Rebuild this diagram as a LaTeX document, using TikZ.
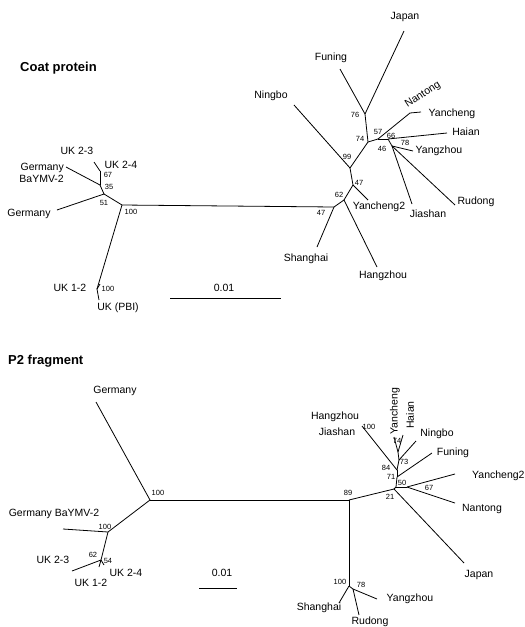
\documentclass[tikz,border=0pt]{standalone}
\usepackage{fontspec}
\setmainfont{Liberation Sans}
\begin{document}
\begin{tikzpicture}[x=1pt,y=-1pt,
  br/.style={line width=0.8pt},
  lab/.style={font=\fontsize{10.5}{12}\selectfont, inner sep=0pt},
  bs/.style={font=\fontsize{7.5}{9}\selectfont, inner sep=0pt},
  ttl/.style={font=\bfseries\fontsize{13}{15}\selectfont, inner sep=0pt, anchor=west}]
\useasboundingbox[fill=white] (0,0) rectangle (525,627);

% ================= Coat protein =================
\node[ttl] (tcp) at (20,68) {Coat protein};
% left coordinates
\coordinate (cL0) at (122,205);
\coordinate (cA) at (104,194);
\coordinate (cB) at (100,185);
\coordinate (cC) at (100,171);
\coordinate (cUKe) at (94,162);
\coordinate (cGBe) at (66,167);
\coordinate (cGe) at (57,210);
\coordinate (cD) at (97,289);
\coordinate (cUK12e) at (100,284);
\coordinate (cPBIe) at (99,300);
\coordinate (cR0) at (334,207);
% right coordinates
\coordinate (cR62) at (344,200);
\coordinate (cR47) at (353,185);
\coordinate (cR99) at (350,168);
\coordinate (cR74) at (368,142);
\coordinate (cR76) at (365,114);
\coordinate (cR57) at (378,139);
\coordinate (cRNY) at (410,113);
\coordinate (cR66) at (388,139);
\coordinate (cR46) at (392,146);
\coordinate (cShe) at (317,247);
\coordinate (cHze) at (377,267);
\coordinate (cY2e) at (368,200);
\coordinate (cNbe) at (294,105);
\coordinate (cFne) at (340,69);
\coordinate (cJpe) at (404,31);
\coordinate (cYce) at (421,112);
\coordinate (cHae) at (447,133);
\coordinate (cYze) at (413,151);
\coordinate (cJse) at (412,204);
\coordinate (cRde) at (455,205);
% scale bar
\coordinate (cSa) at (170,298);
\coordinate (cSb) at (281,298);

\draw[br] (cL0) -- (cR0);
\draw[br] (cL0) -- (cA);
\draw[br] (cA) -- (cGe);
\draw[br] (cA) -- (cB);
\draw[br] (cB) -- (cGBe);
\draw[br] (cB) -- (cC);
\draw[br] (cC) -- (cUKe);
\draw[br] (cL0) -- (cD);
\draw[br] (cD) -- (cUK12e);
\draw[br] (cD) -- (cPBIe);
\draw[br] (cR0) -- (cShe);
\draw[br] (cR0) -- (cR62);
\draw[br] (cR62) -- (cHze);
\draw[br] (cR62) -- (cR47);
\draw[br] (cR47) -- (cY2e);
\draw[br] (cR47) -- (cR99);
\draw[br] (cR99) -- (cNbe);
\draw[br] (cR99) -- (cR74);
\draw[br] (cR74) -- (cR76);
\draw[br] (cR76) -- (cFne);
\draw[br] (cR76) -- (cJpe);
\draw[br] (cR74) -- (cR57);
\draw[br] (cR57) -- (cRNY);
\draw[br] (cRNY) -- (cYce);
\draw[br] (cR57) -- (cR66);
\draw[br] (cR66) -- (cHae);
\draw[br] (cR66) -- (cR46);
\draw[br] (cR46) -- (cYze);
\draw[br] (cR46) -- (cJse);
\draw[br] (cR46) -- (cRde);
\draw[br] (cSa) -- (cSb);

% labels left
\node[lab] (lG) at (29,214) {Germany};
\node[lab, align=right, anchor=east] (lGB) at (64,173) {Germany\\BaYMV-2};
\node[lab] (lUK23) at (77,151) {UK 2-3};
\node[lab] (lUK24) at (121,165) {UK 2-4};
\node[bs] (b67) at (108,175) {67};
\node[bs] (b35) at (109,187) {35};
\node[bs] (b51) at (104,203) {51};
\node[bs] (b100a) at (131,212) {100};
\node[lab] (lUK12) at (70,288) {UK 1-2};
\node[bs] (b100b) at (108,289) {100};
\node[lab] (lPBI) at (118,308) {UK (PBI)};
\node[lab] (lsc1) at (224,288) {0.01};
% labels right
\node[bs] (b47a) at (321,213) {47};
\node[lab] (lSh) at (306,259) {Shanghai};
\node[bs] (b62) at (339,195) {62};
\node[lab] (lHz) at (383,276) {Hangzhou};
\node[bs] (b47b) at (359,183) {47};
\node[lab] (lY2) at (379,207) {Yancheng2};
\node[bs] (b99) at (347,157) {99};
\node[lab] (lNb) at (271,96) {Ningbo};
\node[bs] (b74) at (360,139) {74};
\node[bs] (b76) at (355,115) {76};
\node[lab] (lFn) at (331,58) {Funing};
\node[lab] (lJp) at (405,17) {Japan};
\node[bs] (b57) at (378,132) {57};
\node[bs] (b66) at (391,136) {66};
\node[lab, rotate=33] (lNt) at (423,95) {Nantong};
\node[lab] (lYc) at (452,114) {Yancheng};
\node[lab] (lHa) at (466,132) {Haian};
\node[bs] (b78) at (405,143) {78};
\node[lab] (lYz) at (439,151) {Yangzhou};
\node[bs] (b46) at (382,149) {46};
\node[lab] (lJs) at (428,214) {Jiashan};
\node[lab] (lRd) at (476,202) {Rudong};

% ================= P2 fragment =================
\node[ttl] (tp2) at (8,361) {P2 fragment};
\coordinate (pL0) at (150,500);
\coordinate (pGe) at (96,402);
\coordinate (pR0) at (349,500);
\coordinate (pB) at (108,532);
\coordinate (pGBe) at (63,529);
\coordinate (pC) at (101,560);
\coordinate (pUK23e) at (72,571);
\coordinate (pUK12e) at (99,567);
\coordinate (pUK24e) at (104,565);
\coordinate (pS) at (349,586);
\coordinate (pSR) at (353,589);
\coordinate (pShe) at (339,603);
\coordinate (pRde) at (359,615);
\coordinate (pYze) at (377,599);
\coordinate (pN21) at (394,489);
\coordinate (pN50) at (396,487);
\coordinate (pN67) at (407,487);
\coordinate (pN71) at (397,477);
\coordinate (pN84) at (397,470);
\coordinate (pN73) at (399,460);
\coordinate (pN74) at (398,452);
\coordinate (pJpe) at (464,563);
\coordinate (pY2e) at (455,474);
\coordinate (pNte) at (455,503);
\coordinate (pFne) at (432,453);
\coordinate (pHze) at (362,426);
\coordinate (pNbe) at (416,441);
\coordinate (pYce) at (394,437);
\coordinate (pHae) at (403,435);
\coordinate (pSa) at (199,588);
\coordinate (pSb) at (237,588);

\draw[br] (pL0) -- (pR0);
\draw[br] (pL0) -- (pGe);
\draw[br] (pL0) -- (pB);
\draw[br] (pB) -- (pGBe);
\draw[br] (pB) -- (pC);
\draw[br] (pC) -- (pUK23e);
\draw[br] (pC) -- (pUK12e);
\draw[br] (pC) -- (pUK24e);
\draw[br] (pR0) -- (pS);
\draw[br] (pS) -- (pShe);
\draw[br] (pS) -- (pSR);
\draw[br] (pSR) -- (pRde);
\draw[br] (pSR) -- (pYze);
\draw[br] (pR0) -- (pN21);
\draw[br] (pN21) -- (pJpe);
\draw[br] (pN21) -- (pN50);
\draw[br] (pN50) -- (pN67);
\draw[br] (pN67) -- (pY2e);
\draw[br] (pN67) -- (pNte);
\draw[br] (pN50) -- (pN71);
\draw[br] (pN71) -- (pFne);
\draw[br] (pN71) -- (pN84);
\draw[br] (pN84) -- (pHze);
\draw[br] (pN84) -- (pN73);
\draw[br] (pN73) -- (pNbe);
\draw[br] (pN73) -- (pN74);
\draw[br] (pN74) -- (pYce);
\draw[br] (pN74) -- (pHae);
\draw[br] (pSa) -- (pSb);

\node[lab] (qG) at (115,391) {Germany};
\node[bs] (q100a) at (158,493) {100};
\node[lab] (qGB) at (54,514) {Germany BaYMV-2};
\node[bs] (q100b) at (105,527) {100};
\node[bs] (q62) at (93,555) {62};
\node[lab] (qUK23) at (53,560) {UK 2-3};
\node[bs] (q54) at (108,561) {54};
\node[lab] (qUK24) at (126,573) {UK 2-4};
\node[lab] (qUK12) at (91,583) {UK 1-2};
\node[lab] (qsc) at (222,573) {0.01};
\node[bs] (q89) at (348,493) {89};
\node[bs] (q100c) at (340,582) {100};
\node[bs] (q78) at (361,585) {78};
\node[lab] (qSh) at (319,608) {Shanghai};
\node[lab] (qRd) at (370,622) {Rudong};
\node[lab] (qYz) at (410,599) {Yangzhou};
\node[bs] (q21) at (390,497) {21};
\node[lab] (qJp) at (479,575) {Japan};
\node[bs] (q50) at (402,483) {50};
\node[bs] (q67) at (429,488) {67};
\node[lab] (qNt) at (482,509) {Nantong};
\node[lab, anchor=west] (qY2) at (472,476) {Yancheng2};
\node[bs] (q71) at (391,477) {71};
\node[bs] (q84) at (386,468) {84};
\node[lab] (qFn) at (453,453) {Funing};
\node[bs] (q100d) at (369,427) {100};
\node[lab] (qHz) at (335,417) {Hangzhou};
\node[lab] (qJs) at (337,432) {Jiashan};
\node[bs] (q73) at (404,462) {73};
\node[lab] (qNb) at (437,434) {Ningbo};
\node[bs] (q74) at (397,441) {74};
\node[lab, rotate=90] (qYc) at (395,411) {Yancheng};
\node[lab, rotate=90] (qHa) at (410,415) {Haian};
\end{tikzpicture}
\end{document}
